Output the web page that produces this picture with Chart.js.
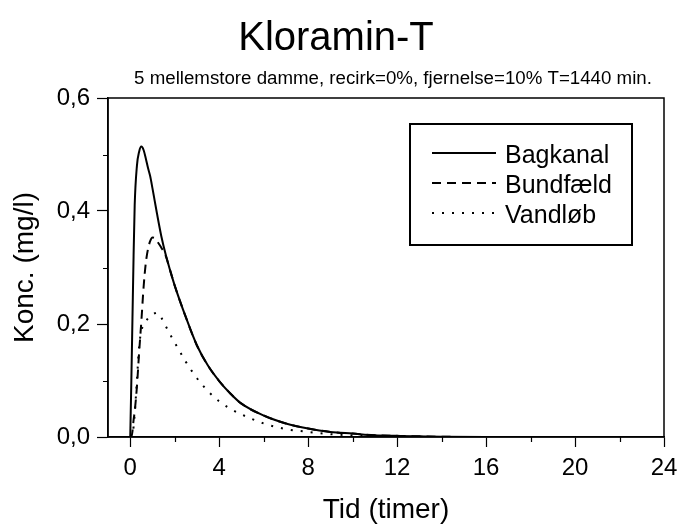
<!DOCTYPE html>
<html>
<head>
<meta charset="utf-8">
<script src="https://cdn.jsdelivr.net/npm/chart.js@4.4.0/dist/chart.umd.min.js"></script>
<style>
html,body{margin:0;padding:0;background:#fff;}
#wrap{width:680px;height:531px;position:relative;}
</style>
</head>
<body>
<div id="wrap"><canvas id="c" width="680" height="531"></canvas></div>
<script>
// ---- data ----
const titleText = 'Kloramin-T';
const subtitleText = '5 mellemstore damme, recirk=0%, fjernelse=10% T=1440 min.';
const xTitle = 'Tid (timer)';
const yTitle = 'Konc. (mg/l)';
const seriesNames = ['Bagkanal', 'Bundfæld', 'Vandløb'];
const xTicks = [0, 4, 8, 12, 16, 20, 24];
const yTicks = [0, 0.2, 0.4, 0.6];
const xMinorTicks = [2, 6, 10, 14, 18, 22];
const yMinorTicks = [0.1, 0.3, 0.5];

const hours    = [0, 0.05, 0.1, 0.15, 0.2, 0.3, 0.4, 0.5, 0.6, 0.7, 0.8, 0.9, 1.0, 1.1, 1.2, 1.4, 1.6, 1.8, 2.0, 2.5, 3.0, 3.5, 4.0, 4.5, 5.0, 6, 7, 8, 9, 10, 11, 12, 14, 16, 18, 20, 22, 24];
const bagkanal = [0, 0.10, 0.21, 0.32, 0.41, 0.48, 0.505, 0.514, 0.508, 0.493, 0.476, 0.461, 0.440, 0.418, 0.396, 0.355, 0.322, 0.294, 0.268, 0.212, 0.162, 0.126, 0.099, 0.077, 0.059, 0.038, 0.024, 0.015, 0.009, 0.006, 0.003, 0.002, 0.0005, 0, 0, 0, 0, 0];
const bundfaeld = [0, 0, 0.010, 0.030, 0.045, 0.089, 0.150, 0.205, 0.265, 0.308, 0.333, 0.347, 0.353, 0.352, 0.347, 0.335, 0.320, 0.294, 0.268, 0.212, 0.162, 0.126, 0.099, 0.077, 0.059, 0.038, 0.024, 0.015, 0.009, 0.006, 0.003, 0.002, 0.0005, 0, 0, 0, 0, 0];
const vandlob  = [0, 0, 0.005, 0.018, 0.040, 0.100, 0.160, 0.188, 0.198, 0.205, 0.210, 0.214, 0.217, 0.219, 0.220, 0.211, 0.196, 0.181, 0.167, 0.133, 0.104, 0.081, 0.063, 0.050, 0.040, 0.024, 0.014, 0.009, 0.005, 0.003, 0.002, 0.001, 0, 0, 0, 0, 0, 0];

// ---- styling ----
const FONT = '"Liberation Sans", Arial, Helvetica, sans-serif';
const dashes = [[], [9, 6], [2, 8]];
const toXY = vals => hours.map((h, i) => ({x: h, y: vals[i]}));
const allSeries = [bagkanal, bundfaeld, vandlob];

const datasets = allSeries.map((vals, i) => ({
  label: seriesNames[i],
  data: toXY(vals),
  borderColor: '#000',
  backgroundColor: '#000',
  borderWidth: 2,
  borderDash: dashes[i],
  pointRadius: 0,
  fill: false,
  cubicInterpolationMode: 'monotone'
}));

const decorPlugin = {
  id: 'decor',
  afterDraw(chart) {
    const ctx = chart.ctx;
    const a = chart.chartArea;
    const xs = chart.scales.x, ys = chart.scales.y;
    ctx.save();
    // frame
    ctx.strokeStyle = '#000';
    ctx.lineWidth = 1.5;
    ctx.setLineDash([]);
    ctx.strokeRect(a.left, a.top, a.right - a.left, a.bottom - a.top);
    // minor ticks
    ctx.lineWidth = 1.2;
    ctx.beginPath();
    xMinorTicks.forEach(v => {
      const px = Math.round(xs.getPixelForValue(v)) + 0.5;
      ctx.moveTo(px, a.bottom); ctx.lineTo(px, a.bottom + 5);
    });
    yMinorTicks.forEach(v => {
      const py = Math.round(ys.getPixelForValue(v)) + 0.5;
      ctx.moveTo(a.left, py); ctx.lineTo(a.left - 5, py);
    });
    ctx.stroke();
    // title + subtitle
    ctx.fillStyle = '#000';
    ctx.textAlign = 'center';
    ctx.textBaseline = 'alphabetic';
    ctx.font = '40px ' + FONT;
    ctx.fillText(titleText, 336, 50);
    ctx.font = '18.7px ' + FONT;
    ctx.fillText(subtitleText, 393, 84);
    // legend
    const lx = 410, ly = 124, lw = 222, lh = 121;
    ctx.lineWidth = 2;
    ctx.strokeRect(lx, ly, lw, lh);
    ctx.font = '25px ' + FONT;
    ctx.textAlign = 'left';
    chart.data.datasets.forEach((ds, i) => {
      const base = 163 + i * 30;
      const yLine = base - 10;
      ctx.setLineDash(ds.borderDash);
      ctx.lineWidth = 2;
      ctx.beginPath();
      ctx.moveTo(432, yLine); ctx.lineTo(496, yLine);
      ctx.stroke();
      ctx.setLineDash([]);
      ctx.fillText(ds.label, 505, base);
    });
    ctx.restore();
  }
};

new Chart(document.getElementById('c'), {
  type: 'line',
  data: {datasets},
  options: {
    responsive: false,
    animation: false,
    devicePixelRatio: 1,
    layout: {padding: {left: 0, right: 16, top: 98, bottom: 0}},
    plugins: {
      legend: {display: false},
      tooltip: {enabled: false},
      title: {display: false}
    },
    scales: {
      x: {
        type: 'linear',
        min: -1,
        max: 24,
        afterBuildTicks: s => { s.ticks = xTicks.map(v => ({value: v})); },
        afterFit: s => { s.height = 94; s.paddingRight = 10; s.paddingLeft = 0; },
        ticks: {
          autoSkip: false, maxRotation: 0, padding: 7, color: '#000',
          font: {family: FONT, size: 24},
          callback: v => String(v)
        },
        grid: {drawOnChartArea: false, drawTicks: true, tickLength: 10, tickColor: '#000', tickWidth: 1.2},
        border: {display: true, color: '#000', width: 1.5},
        title: {display: true, text: xTitle, color: '#000', font: {family: FONT, size: 28}, padding: {top: 0, bottom: 4}}
      },
      y: {
        type: 'linear',
        min: 0,
        max: 0.6,
        afterBuildTicks: s => { s.ticks = yTicks.map(v => ({value: v})); },
        afterFit: s => { s.width = 108; s.paddingTop = 0; s.paddingBottom = 0; },
        ticks: {
          padding: 7, color: '#000',
          font: {family: FONT, size: 24},
          callback: v => v.toFixed(1).replace('.', ',')
        },
        grid: {drawOnChartArea: false, drawTicks: true, tickLength: 11, tickColor: '#000', tickWidth: 1.2},
        border: {display: true, color: '#000', width: 1.5},
        title: {display: true, text: yTitle, color: '#000', font: {family: FONT, size: 28}, padding: {top: 8, bottom: 0}}
      }
    }
  },
  plugins: [decorPlugin]
});
</script>
</body>
</html>
